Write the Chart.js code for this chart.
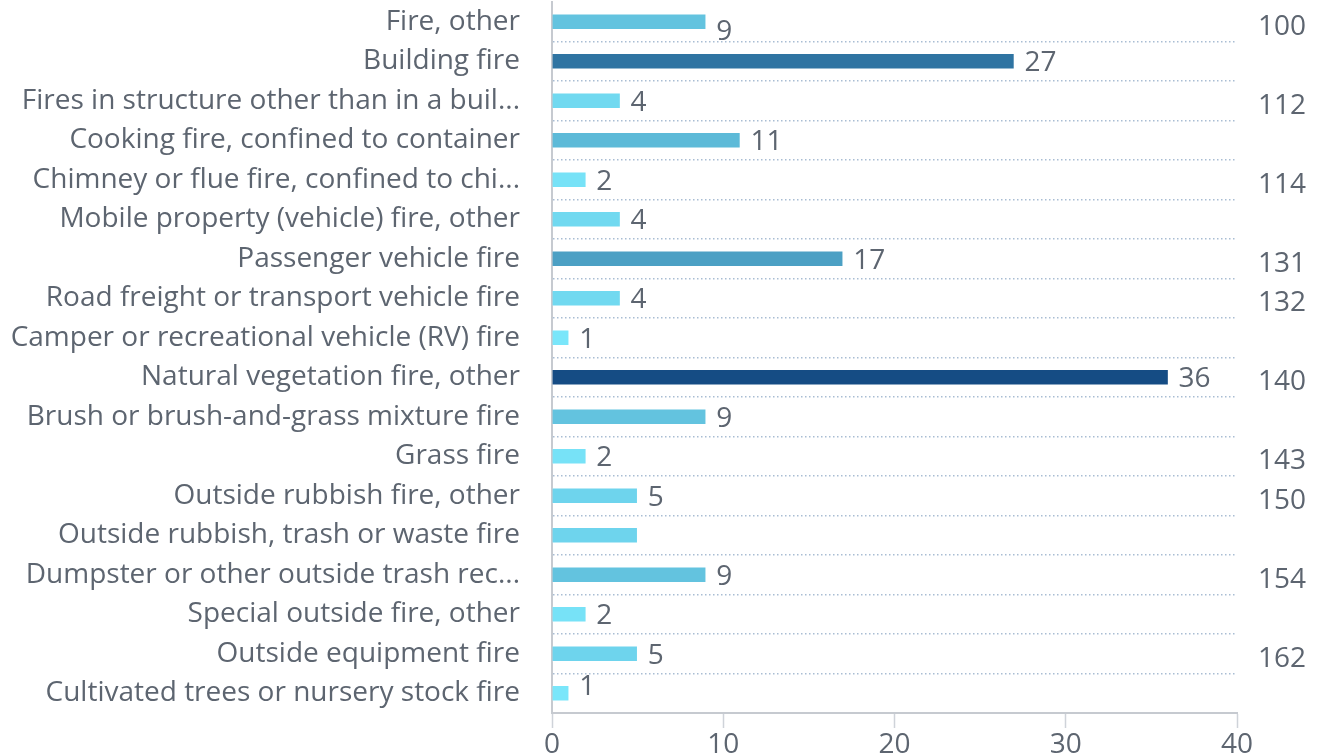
<!DOCTYPE html>
<html>
<head>
<meta charset="utf-8">
<script src="https://cdn.jsdelivr.net/npm/chart.js@4"></script>
<style>
  html, body { margin: 0; padding: 0; background: #ffffff; }
  #wrap { width: 1318px; height: 755px; position: relative; }
</style>
</head>
<body>
<div id="wrap"><canvas id="c"></canvas></div>
<script>
const categories = [
  'Fire, other',
  'Building fire',
  'Fires in structure other than in a buil...',
  'Cooking fire, confined to container',
  'Chimney or flue fire, confined to chi...',
  'Mobile property (vehicle) fire, other',
  'Passenger vehicle fire',
  'Road freight or transport vehicle fire',
  'Camper or recreational vehicle (RV) fire',
  'Natural vegetation fire, other',
  'Brush or brush-and-grass mixture fire',
  'Grass fire',
  'Outside rubbish fire, other',
  'Outside rubbish, trash or waste fire',
  'Dumpster or other outside trash rec...',
  'Special outside fire, other',
  'Outside equipment fire',
  'Cultivated trees or nursery stock fire'
];
const values = [9, 27, 4, 11, 2, 4, 17, 4, 1, 36, 9, 2, 5, 5, 9, 2, 5, 1];
const valueLabelShown = [true, true, true, true, true, true, true, true, true, true, true, true, true, false, true, true, true, true];
const codeLabels = ['100', '', '112', '', '114', '', '131', '132', '', '140', '', '143', '150', '', '154', '', '162', ''];
const xMin = 0;
const xMax = 40;
const xStep = 10;

const FONT = '"Open Sans", "Noto Sans", sans-serif';
const TEXT = '#5d6570';
const LIGHT = [122, 230, 250];
const DARK = [21, 76, 132];

function shade(v) {
  const lo = Math.min(...values), hi = Math.max(...values);
  const t = (v - lo) / (hi - lo);
  const c = LIGHT.map((a, i) => Math.round(a + (DARK[i] - a) * t));
  return 'rgb(' + c.join(',') + ')';
}

const valueLabels = {
  id: 'valueLabels',
  afterDatasetsDraw(chart) {
    const ctx = chart.ctx;
    const area = chart.chartArea;
    const meta = chart.getDatasetMeta(0);
    ctx.save();
    ctx.font = '28px ' + FONT;
    ctx.fillStyle = TEXT;
    ctx.textAlign = 'left';
    ctx.textBaseline = 'middle';
    meta.data.forEach((bar, i) => {
      if (!valueLabelShown[i]) return;
      let y = bar.y;
      y = Math.max(y, area.top + 28);
      y = Math.min(y, area.bottom - 28);
      ctx.fillText(String(values[i]), bar.x + 10, y + 2);
    });
    ctx.restore();
  }
};

new Chart(document.getElementById('c'), {
  type: 'bar',
  data: {
    labels: categories,
    datasets: [{
      data: values,
      backgroundColor: (ctx) => shade(values[ctx.dataIndex]),
      borderColor: 'rgba(255,255,255,0.35)',
      borderWidth: 1,
      barThickness: 16,
      yAxisID: 'y'
    }]
  },
  options: {
    indexAxis: 'y',
    responsive: true,
    maintainAspectRatio: false,
    animation: false,
    layout: { padding: { left: 10, right: 12, top: 2, bottom: 0 } },
    plugins: {
      legend: { display: false },
      title: { display: false },
      tooltip: { enabled: false }
    },
    scales: {
      x: {
        type: 'linear',
        min: xMin,
        max: xMax,
        ticks: {
          stepSize: xStep,
          color: TEXT,
          font: { family: FONT, size: 28 },
          padding: 0
        },
        grid: {
          drawOnChartArea: false,
          drawTicks: true,
          tickLength: 15,
          tickColor: '#cfd3d9',
          tickWidth: 1.5
        },
        border: { display: true, color: '#c6cad0', width: 2 },
        afterFit: (s) => { s.height = 42; s.paddingLeft = 0; s.paddingRight = 0; }
      },
      y: {
        type: 'category',
        position: 'left',
        ticks: {
          color: TEXT,
          font: { family: FONT, size: 28 },
          padding: 32,
          autoSkip: false
        },
        grid: {
          offset: true,
          drawTicks: false,
          color: (ctx) => ctx.index === 0 ? 'rgba(0,0,0,0)' : '#a9bdd3',
          lineWidth: 1.5
        },
        border: { display: true, color: '#c6cad0', width: 2, dash: [1.5, 2.5] },
        afterFit: (s) => { s.width = 542; s.paddingTop = 0; s.paddingBottom = 0; }
      },
      y2: {
        type: 'category',
        position: 'right',
        labels: codeLabels,
        offset: true,
        ticks: {
          color: TEXT,
          font: { family: FONT, size: 28 },
          padding: 21,
          labelOffset: 5,
          autoSkip: false
        },
        grid: { display: false, drawTicks: false },
        border: { display: false },
        afterFit: (s) => { s.width = 69; s.paddingTop = 0; s.paddingBottom = 0; }
      }
    }
  },
  plugins: [valueLabels]
});
</script>
</body>
</html>
